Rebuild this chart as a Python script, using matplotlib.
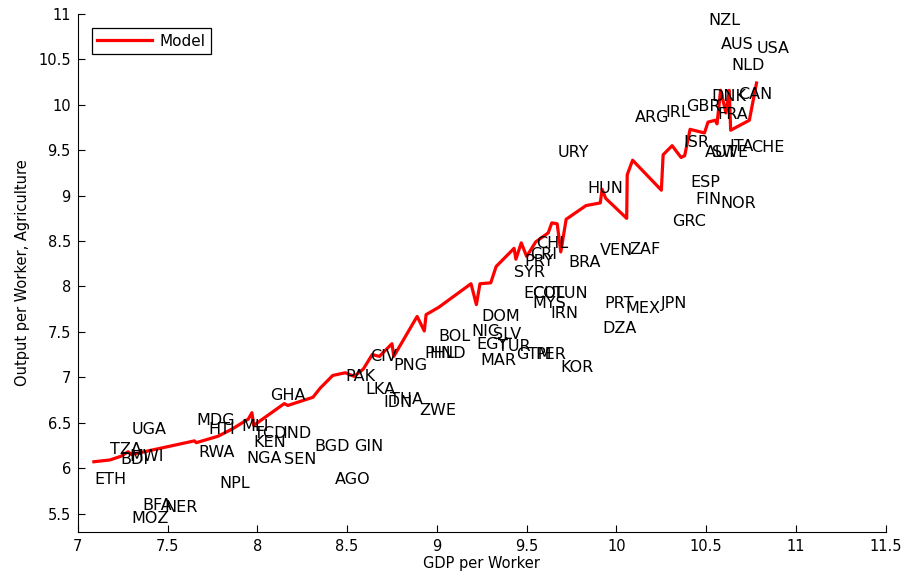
import matplotlib
matplotlib.use('Agg')
import matplotlib.pyplot as plt

# country labels: GDP per worker (x) and output per worker in agriculture (y)
countries = ['ETH', 'TZA', 'BDI', 'MWI', 'UGA', 'MOZ', 'BFA', 'NER', 'MDG', 'RWA',
             'HTI', 'NPL', 'MLI', 'NGA', 'TCD', 'KEN', 'GHA', 'IND', 'SEN', 'BGD',
             'AGO', 'PAK', 'GIN', 'LKA', 'CIV', 'IDN', 'THA', 'PNG', 'ZWE', 'PHL',
             'HND', 'BOL', 'NIC', 'EGY', 'MAR', 'DOM', 'SLV', 'TUR', 'SYR', 'GTM',
             'ECU', 'PRY', 'CRI', 'COL', 'MYS', 'CHL', 'PER', 'IRN', 'TUN', 'URY',
             'KOR', 'BRA', 'HUN', 'VEN', 'DZA', 'PRT', 'MEX', 'ZAF', 'ARG', 'JPN',
             'IRL', 'GRC', 'ISR', 'GBR', 'ESP', 'FIN', 'AUT', 'NZL', 'DNK', 'SWE',
             'FRA', 'AUS', 'NOR', 'ITA', 'NLD', 'CAN', 'CHE', 'USA']
gdp = [7.09, 7.18, 7.24, 7.29, 7.30, 7.30, 7.36, 7.48, 7.66, 7.67,
       7.73, 7.79, 7.91, 7.94, 7.98, 7.98, 8.07, 8.14, 8.15, 8.32,
       8.43, 8.49, 8.54, 8.60, 8.63, 8.70, 8.74, 8.76, 8.90, 8.93,
       8.96, 9.01, 9.19, 9.22, 9.24, 9.25, 9.31, 9.34, 9.43, 9.44,
       9.48, 9.49, 9.52, 9.53, 9.53, 9.55, 9.55, 9.63, 9.65, 9.67,
       9.69, 9.73, 9.84, 9.91, 9.92, 9.93, 10.05, 10.07, 10.10, 10.25,
       10.27, 10.31, 10.37, 10.39, 10.41, 10.44, 10.49, 10.51, 10.53, 10.53,
       10.56, 10.58, 10.58, 10.63, 10.64, 10.68, 10.75, 10.78]
agri = [5.87, 6.20, 6.09, 6.13, 6.42, 5.45, 5.59, 5.57, 6.52, 6.17,
        6.43, 5.83, 6.46, 6.11, 6.38, 6.28, 6.80, 6.38, 6.10, 6.24,
        5.88, 7.01, 6.24, 6.86, 7.23, 6.72, 6.75, 7.13, 6.63, 7.26,
        7.26, 7.45, 7.50, 7.36, 7.18, 7.67, 7.47, 7.34, 8.15, 7.25,
        7.92, 8.27, 8.35, 7.92, 7.81, 8.47, 7.25, 7.70, 7.92, 9.48,
        7.11, 8.26, 9.08, 8.40, 7.54, 7.81, 7.76, 8.41, 9.86, 7.81,
        9.92, 8.71, 9.59, 9.98, 9.14, 8.96, 9.47, 10.93, 10.09, 9.47,
        9.89, 10.66, 8.91, 9.54, 10.43, 10.11, 9.53, 10.62]

# model line
model_gdp = [7.09, 7.18, 7.24, 7.28, 7.30, 7.65, 7.66, 7.78, 7.86, 7.95,
             7.97, 7.98, 8.15, 8.17, 8.31, 8.35, 8.42, 8.49, 8.54, 8.59,
             8.64, 8.68, 8.75, 8.76, 8.89, 8.93, 8.94, 9.01, 9.19, 9.22,
             9.24, 9.30, 9.33, 9.43, 9.44, 9.47, 9.50, 9.55, 9.62, 9.64,
             9.67, 9.69, 9.72, 9.83, 9.91, 9.92, 9.94, 10.057, 10.06, 10.09,
             10.25, 10.26, 10.31, 10.36, 10.38, 10.41, 10.49, 10.51, 10.55, 10.56,
             10.58, 10.61, 10.628, 10.636, 10.74, 10.78]
model_agri = [6.07, 6.09, 6.13, 6.18, 6.15, 6.30, 6.28, 6.35, 6.43, 6.54,
              6.61, 6.47, 6.71, 6.69, 6.78, 6.88, 7.02, 7.05, 7.01, 7.09,
              7.25, 7.23, 7.37, 7.23, 7.67, 7.51, 7.69, 7.77, 8.03, 7.80,
              8.03, 8.04, 8.22, 8.42, 8.30, 8.48, 8.33, 8.49, 8.59, 8.70,
              8.69, 8.38, 8.74, 8.89, 8.92, 9.07, 8.97, 8.75, 9.23, 9.39,
              9.06, 9.45, 9.55, 9.42, 9.44, 9.73, 9.69, 9.81, 9.83, 9.79,
              10.16, 9.91, 10.16, 9.72, 9.83, 10.24]

fig = plt.figure(figsize=(9.09, 5.73), dpi=100)
ax = fig.add_axes([0.0855, 0.0721, 0.889, 0.9035])

ax.plot(model_gdp, model_agri, color='red', linewidth=2.3, label='Model', zorder=3)

for name, x, y in zip(countries, gdp, agri):
    ax.text(x, y, name, ha='left', va='center', fontsize=11.5, color='black')

ax.set_xlim(7, 11.5)
ax.set_ylim(5.3, 11)
ax.set_xticks([7, 7.5, 8, 8.5, 9, 9.5, 10, 10.5, 11, 11.5])
ax.set_xticklabels(['7', '7.5', '8', '8.5', '9', '9.5', '10', '10.5', '11', '11.5'])
ax.set_yticks([5.5, 6, 6.5, 7, 7.5, 8, 8.5, 9, 9.5, 10, 10.5, 11])
ax.set_yticklabels(['5.5', '6', '6.5', '7', '7.5', '8', '8.5', '9', '9.5', '10', '10.5', '11'])
ax.tick_params(direction='in', length=5, labelsize=10.5, pad=5)
ax.spines['top'].set_visible(False)
ax.spines['right'].set_visible(False)
ax.set_xlabel('GDP per Worker', fontsize=10.5, labelpad=2)
ax.set_ylabel('Output per Worker, Agriculture', fontsize=10.5, labelpad=6)

leg = ax.legend(loc='upper left', bbox_to_anchor=(0.008, 0.987), fontsize=11,
                fancybox=False, edgecolor='black', framealpha=1,
                handlelength=3.6, borderpad=0.35, handletextpad=0.5)
leg.get_frame().set_linewidth(0.9)

plt.savefig('out.png', dpi=100)
